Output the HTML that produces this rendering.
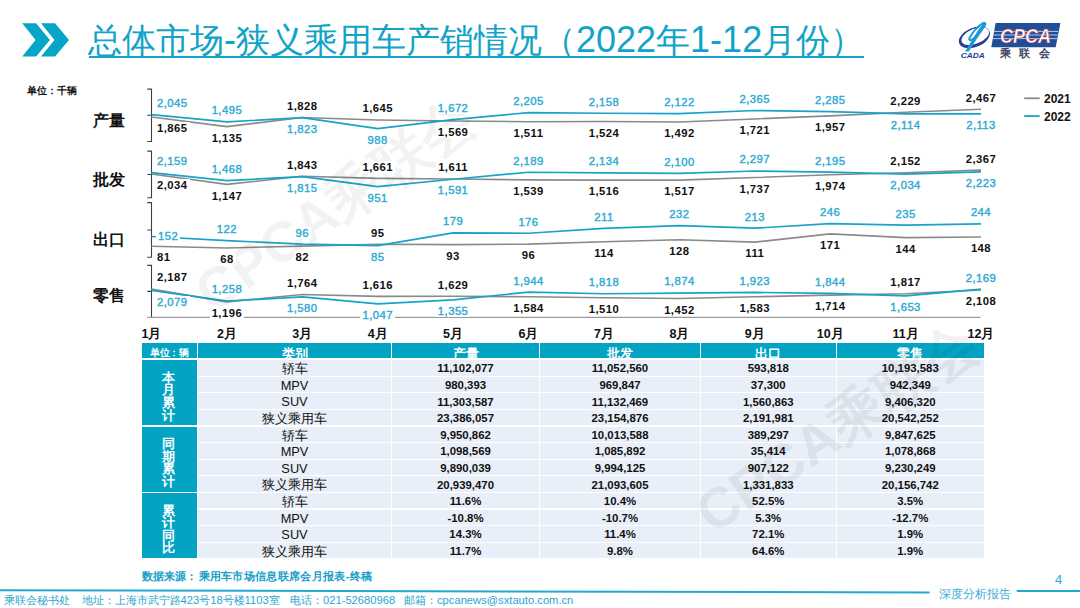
<!DOCTYPE html>
<html><head><meta charset="utf-8">
<style>
html,body{margin:0;padding:0;background:#fff;}
body{width:1080px;height:608px;position:relative;overflow:hidden;font-family:"Liberation Sans",sans-serif;}
.abs{position:absolute;}
.d{font-size:36px;}
.ft{position:absolute;top:593px;font-size:11.2px;line-height:14px;color:#2ba6d0;white-space:pre;}
.wm{position:absolute;font-size:52px;font-weight:bold;color:rgba(0,0,0,0.055);white-space:nowrap;line-height:52px;transform-origin:0 50%;}
.lb{position:absolute;width:60px;height:14px;line-height:14px;text-align:center;font-size:11.3px;letter-spacing:0.45px;}
.lb span{background:#fff;padding:0 2px;}
.k{color:#111;font-weight:bold;}
.b{color:#2eaad3;font-weight:normal;-webkit-text-stroke:0.4px #2eaad3;}
.mo{position:absolute;top:326px;width:40px;height:16px;line-height:16px;text-align:center;font-size:12.5px;font-weight:bold;color:#111;}
.cn{position:absolute;left:92.5px;width:40px;font-size:16px;font-weight:bold;color:#111;line-height:18px;height:18px;}
.th0,.th,.gc,.tc,.td{position:absolute;box-sizing:border-box;}
.th0{background:#03a3c4;color:#fff;font-size:9.5px;font-weight:bold;text-align:center;line-height:14.7px;}
.th0 span{position:absolute;left:8px;top:2.5px;white-space:nowrap;letter-spacing:-0.3px}
.th{background:#03a3c4;color:#fff;font-size:12.5px;font-weight:bold;text-align:center;overflow:hidden;}
.th span{position:absolute;left:0;right:0;top:2.5px;line-height:16px;}
.gc{background:#03a3c4;color:#fff;font-size:12.5px;font-weight:bold;}
.gc span{position:absolute;left:0;right:0;top:50%;transform:translateY(-50%);margin-top:4px;margin-left:-2px;text-align:center;line-height:12.6px;}
.tc{background:#e8eff8;color:#111;font-size:12.8px;text-align:center;line-height:16px;padding-top:1.2px;}
.td{background:#e8eff8;color:#111;font-size:11.4px;font-weight:bold;text-align:center;line-height:16px;padding-top:0.4px;}
</style></head><body>
<svg class="abs" style="left:0;top:0" width="1080" height="70">
<path d="M22.2 23.3H36.1L49.9 39.9L36.1 56.5H22.2L35.6 39.9Z" fill="#04a5c6"/>
<path d="M41 23.3H55L69 39.9L55 56.5H41L54.5 39.9Z" fill="#04a5c6"/>
</svg>
<div class="abs" style="left:88px;top:17.5px;font-size:34px;font-weight:350;line-height:44px;color:#12a3c9;white-space:pre;">总体市场<span class="d">-</span>狭义乘用车产销情况（<span class="d">2022</span>年<span class="d">1-12</span>月份）</div>
<div class="abs" style="left:88.5px;top:55.6px;width:775.5px;height:2px;background:#12a3c9"></div>
<svg class="abs" style="left:0;top:0" width="1080" height="70">
<ellipse cx="974.4" cy="37.4" rx="16.3" ry="9.6" transform="rotate(-22 974.4 37.4)" fill="#2b3c98"/>
<ellipse cx="975.3" cy="36.2" rx="14.6" ry="7.4" transform="rotate(-22 975.3 36.2)" fill="#fff"/>
<path d="M965 51.6L968.8 51.6L977 38.5L986 25.5C987 23.5 986 21.6 984 22L982.5 23Z" fill="#1a9ad8"/>
<path d="M983.6 22.6C978 26 972 33 969.5 38C968.6 40 970 40.8 972 39.6C975 37.6 977.5 35 979.5 32" fill="none" stroke="#1a9ad8" stroke-width="2"/>
<path d="M981.5 25.5C977.5 29.5 974 34 972.5 37" fill="none" stroke="#fff" stroke-width="0.8"/>
<text x="960.8" y="57.6" font-family="Liberation Sans" font-weight="bold" font-style="italic" font-size="6.8" fill="#2b3c98" textLength="24" lengthAdjust="spacingAndGlyphs">CADA</text>
<path d="M995.6 23.1H1060.4L1055.7 47.3H991.3Z" fill="#1f4f98"/>
<path d="M994.2 31.4H1058.4M993.5 35H1057.7M992.8 38.6H1057" stroke="#b8c8e0" stroke-width="1"/>
<text x="1000" y="43.3" font-family="Liberation Sans" font-style="italic" font-weight="bold" font-size="21" fill="#fff" stroke="#d02a3a" stroke-width="0.5" textLength="51" lengthAdjust="spacingAndGlyphs">CPCA</text>
<text x="999.8" y="57.4" font-family="Liberation Sans" font-weight="bold" font-size="10.8" fill="#3a4262" letter-spacing="8.4">乘联会</text>
</svg>
<div class="abs" style="left:26.5px;top:85px;font-size:10px;font-weight:bold;line-height:12px;color:#111;">单位：千辆</div>
<div class="cn" style="top:112px">产量</div>
<div class="cn" style="top:171.3px">批发</div>
<div class="cn" style="top:230.8px">出口</div>
<div class="cn" style="top:287.2px">零售</div>
<svg width="1080" height="608" style="position:absolute;left:0;top:0"><path d="M147.3 89.10H151.5V141.50H147.3M147.3 115.30H151.5" fill="none" stroke="#404040" stroke-width="1.1"/><path d="M151.50 117.07 L226.91 126.63 L302.32 117.55 L377.73 119.95 L453.14 120.95 L528.55 121.71 L603.96 121.54 L679.37 121.95 L754.78 118.95 L830.19 115.86 L905.60 112.30 L981.01 109.18" fill="none" stroke="#8a8a8a" stroke-width="1.6" stroke-linejoin="round"/><path d="M151.50 114.71 L226.91 121.92 L302.32 117.62 L377.73 128.56 L453.14 119.60 L528.55 112.61 L603.96 113.23 L679.37 113.70 L754.78 110.52 L830.19 111.57 L905.60 113.81 L981.01 113.82" fill="none" stroke="#1aa3c9" stroke-width="1.7" stroke-linejoin="round"/><path d="M147.3 151.10H151.5V197.80H147.3M147.3 174.45H151.5" fill="none" stroke="#404040" stroke-width="1.1"/><path d="M151.50 174.05 L226.91 184.41 L302.32 176.28 L377.73 178.41 L453.14 178.99 L528.55 179.83 L603.96 180.10 L679.37 180.09 L754.78 177.52 L830.19 174.75 L905.60 172.68 L981.01 170.17" fill="none" stroke="#8a8a8a" stroke-width="1.6" stroke-linejoin="round"/><path d="M151.50 172.59 L226.91 180.66 L302.32 176.61 L377.73 186.70 L453.14 179.23 L528.55 172.24 L603.96 172.89 L679.37 173.28 L754.78 170.98 L830.19 172.17 L905.60 174.05 L981.01 171.85" fill="none" stroke="#1aa3c9" stroke-width="1.7" stroke-linejoin="round"/><path d="M147.3 202.60H151.5V257.30H147.3M147.3 229.95H151.5" fill="none" stroke="#404040" stroke-width="1.1"/><path d="M151.50 246.22 L226.91 248.00 L302.32 246.09 L377.73 244.31 L453.14 244.58 L528.55 244.17 L603.96 241.71 L679.37 239.80 L754.78 242.12 L830.19 233.92 L905.60 237.61 L981.01 237.06" fill="none" stroke="#8a8a8a" stroke-width="1.6" stroke-linejoin="round"/><path d="M151.50 236.51 L226.91 240.62 L302.32 244.17 L377.73 245.68 L453.14 232.82 L528.55 233.23 L603.96 228.45 L679.37 225.57 L754.78 228.17 L830.19 223.66 L905.60 225.16 L981.01 223.93" fill="none" stroke="#1aa3c9" stroke-width="1.7" stroke-linejoin="round"/><path d="M147.3 265.40H151.5V317.40M147.3 291.40H151.5" fill="none" stroke="#404040" stroke-width="1.1"/><path d="M147.3 317.40H980.5" fill="none" stroke="#9a9a9a" stroke-width="1.4"/><path d="M151.50 288.97 L226.91 301.85 L302.32 294.47 L377.73 296.39 L453.14 296.22 L528.55 296.81 L603.96 297.77 L679.37 298.52 L754.78 296.82 L830.19 295.12 L905.60 293.78 L981.01 290.00" fill="none" stroke="#8a8a8a" stroke-width="1.6" stroke-linejoin="round"/><path d="M151.50 290.37 L226.91 301.05 L302.32 296.86 L377.73 303.79 L453.14 299.78 L528.55 292.13 L603.96 293.77 L679.37 293.04 L754.78 292.40 L830.19 293.43 L905.60 295.91 L981.01 289.20" fill="none" stroke="#1aa3c9" stroke-width="1.7" stroke-linejoin="round"/></svg>
<svg class="abs" style="left:0;top:0" width="1080" height="608">
<g font-family="Liberation Sans" font-weight="bold" font-size="56" fill="rgba(0,0,0,0.05)" text-anchor="middle">
<text transform="translate(335 204) rotate(-35)" y="20">CPCA乘联会</text>
</g></svg>
<div class="lb k" style="left:155px;text-align:left;top:121.2px"><span>1,865</span></div><div class="lb b" style="left:155px;text-align:left;top:96.1px"><span>2,045</span></div><div class="lb k" style="left:196.9px;top:130.8px"><span>1,135</span></div><div class="lb b" style="left:196.9px;top:103.3px"><span>1,495</span></div><div class="lb k" style="left:272.3px;top:98.9px"><span>1,828</span></div><div class="lb b" style="left:272.3px;top:121.8px"><span>1,823</span></div><div class="lb k" style="left:347.7px;top:101.3px"><span>1,645</span></div><div class="lb b" style="left:347.7px;top:132.7px"><span>988</span></div><div class="lb k" style="left:423.1px;top:125.1px"><span>1,569</span></div><div class="lb b" style="left:423.1px;top:100.9px"><span>1,672</span></div><div class="lb k" style="left:498.5px;top:125.9px"><span>1,511</span></div><div class="lb b" style="left:498.5px;top:94.0px"><span>2,205</span></div><div class="lb k" style="left:574.0px;top:125.7px"><span>1,524</span></div><div class="lb b" style="left:574.0px;top:94.6px"><span>2,158</span></div><div class="lb k" style="left:649.4px;top:126.1px"><span>1,492</span></div><div class="lb b" style="left:649.4px;top:95.1px"><span>2,122</span></div><div class="lb k" style="left:724.8px;top:123.1px"><span>1,721</span></div><div class="lb b" style="left:724.8px;top:91.9px"><span>2,365</span></div><div class="lb k" style="left:800.2px;top:120.0px"><span>1,957</span></div><div class="lb b" style="left:800.2px;top:92.9px"><span>2,285</span></div><div class="lb k" style="left:875.6px;top:93.7px"><span>2,229</span></div><div class="lb b" style="left:875.6px;top:118.0px"><span>2,114</span></div><div class="lb k" style="left:951.0px;top:90.5px"><span>2,467</span></div><div class="lb b" style="left:951.0px;top:118.0px"><span>2,113</span></div><div class="lb k" style="left:155px;text-align:left;top:178.2px"><span>2,034</span></div><div class="lb b" style="left:155px;text-align:left;top:153.9px"><span>2,159</span></div><div class="lb k" style="left:196.9px;top:188.6px"><span>1,147</span></div><div class="lb b" style="left:196.9px;top:162.0px"><span>1,468</span></div><div class="lb k" style="left:272.3px;top:157.6px"><span>1,843</span></div><div class="lb b" style="left:272.3px;top:180.8px"><span>1,815</span></div><div class="lb k" style="left:347.7px;top:159.8px"><span>1,661</span></div><div class="lb b" style="left:347.7px;top:190.8px"><span>951</span></div><div class="lb k" style="left:423.1px;top:160.3px"><span>1,611</span></div><div class="lb b" style="left:423.1px;top:183.4px"><span>1,591</span></div><div class="lb k" style="left:498.5px;top:184.0px"><span>1,539</span></div><div class="lb b" style="left:498.5px;top:153.6px"><span>2,189</span></div><div class="lb k" style="left:574.0px;top:184.3px"><span>1,516</span></div><div class="lb b" style="left:574.0px;top:154.2px"><span>2,134</span></div><div class="lb k" style="left:649.4px;top:184.2px"><span>1,517</span></div><div class="lb b" style="left:649.4px;top:154.6px"><span>2,100</span></div><div class="lb k" style="left:724.8px;top:181.7px"><span>1,737</span></div><div class="lb b" style="left:724.8px;top:152.3px"><span>2,297</span></div><div class="lb k" style="left:800.2px;top:178.9px"><span>1,974</span></div><div class="lb b" style="left:800.2px;top:153.5px"><span>2,195</span></div><div class="lb k" style="left:875.6px;top:154.0px"><span>2,152</span></div><div class="lb b" style="left:875.6px;top:178.2px"><span>2,034</span></div><div class="lb k" style="left:951.0px;top:151.5px"><span>2,367</span></div><div class="lb b" style="left:951.0px;top:176.0px"><span>2,223</span></div><div class="lb k" style="left:155px;text-align:left;top:250.4px"><span>81</span></div><div class="lb b" style="left:138.2px;top:228.5px"><span>152</span></div><div class="lb k" style="left:196.9px;top:252.2px"><span>68</span></div><div class="lb b" style="left:196.9px;top:222.0px"><span>122</span></div><div class="lb k" style="left:272.3px;top:250.2px"><span>82</span></div><div class="lb b" style="left:272.3px;top:225.5px"><span>96</span></div><div class="lb k" style="left:347.7px;top:225.7px"><span>95</span></div><div class="lb b" style="left:347.7px;top:249.8px"><span>85</span></div><div class="lb k" style="left:423.1px;top:248.7px"><span>93</span></div><div class="lb b" style="left:423.1px;top:214.2px"><span>179</span></div><div class="lb k" style="left:498.5px;top:248.3px"><span>96</span></div><div class="lb b" style="left:498.5px;top:214.6px"><span>176</span></div><div class="lb k" style="left:574.0px;top:245.9px"><span>114</span></div><div class="lb b" style="left:574.0px;top:209.8px"><span>211</span></div><div class="lb k" style="left:649.4px;top:243.9px"><span>128</span></div><div class="lb b" style="left:649.4px;top:206.9px"><span>232</span></div><div class="lb k" style="left:724.8px;top:246.3px"><span>111</span></div><div class="lb b" style="left:724.8px;top:209.5px"><span>213</span></div><div class="lb k" style="left:800.2px;top:238.1px"><span>171</span></div><div class="lb b" style="left:800.2px;top:205.0px"><span>246</span></div><div class="lb k" style="left:875.6px;top:241.8px"><span>144</span></div><div class="lb b" style="left:875.6px;top:206.5px"><span>235</span></div><div class="lb k" style="left:951.0px;top:241.2px"><span>148</span></div><div class="lb b" style="left:951.0px;top:205.3px"><span>244</span></div><div class="lb k" style="left:155px;text-align:left;top:270.3px"><span>2,187</span></div><div class="lb b" style="left:155px;text-align:left;top:294.5px"><span>2,079</span></div><div class="lb k" style="left:196.9px;top:306.0px"><span>1,196</span></div><div class="lb b" style="left:196.9px;top:282.4px"><span>1,258</span></div><div class="lb k" style="left:272.3px;top:275.8px"><span>1,764</span></div><div class="lb b" style="left:272.3px;top:301.0px"><span>1,580</span></div><div class="lb k" style="left:347.7px;top:277.7px"><span>1,616</span></div><div class="lb b" style="left:347.7px;top:307.9px"><span>1,047</span></div><div class="lb k" style="left:423.1px;top:277.6px"><span>1,629</span></div><div class="lb b" style="left:423.1px;top:303.9px"><span>1,355</span></div><div class="lb k" style="left:498.5px;top:301.0px"><span>1,584</span></div><div class="lb b" style="left:498.5px;top:273.5px"><span>1,944</span></div><div class="lb k" style="left:574.0px;top:301.9px"><span>1,510</span></div><div class="lb b" style="left:574.0px;top:275.1px"><span>1,818</span></div><div class="lb k" style="left:649.4px;top:302.7px"><span>1,452</span></div><div class="lb b" style="left:649.4px;top:274.4px"><span>1,874</span></div><div class="lb k" style="left:724.8px;top:301.0px"><span>1,583</span></div><div class="lb b" style="left:724.8px;top:273.8px"><span>1,923</span></div><div class="lb k" style="left:800.2px;top:299.3px"><span>1,714</span></div><div class="lb b" style="left:800.2px;top:274.8px"><span>1,844</span></div><div class="lb k" style="left:875.6px;top:275.1px"><span>1,817</span></div><div class="lb b" style="left:875.6px;top:300.1px"><span>1,653</span></div><div class="lb k" style="left:951.0px;top:294.1px"><span>2,108</span></div><div class="lb b" style="left:951.0px;top:270.6px"><span>2,169</span></div>
<div class="mo" style="left:131.5px">1月</div><div class="mo" style="left:206.9px">2月</div><div class="mo" style="left:282.3px">3月</div><div class="mo" style="left:357.7px">4月</div><div class="mo" style="left:433.1px">5月</div><div class="mo" style="left:508.5px">6月</div><div class="mo" style="left:584.0px">7月</div><div class="mo" style="left:659.4px">8月</div><div class="mo" style="left:734.8px">9月</div><div class="mo" style="left:810.2px">10月</div><div class="mo" style="left:885.6px">11月</div><div class="mo" style="left:961.0px">12月</div>
<svg class="abs" style="left:0;top:0" width="1080" height="130">
<path d="M1024.2 98.3H1039.7" stroke="#8a8a8a" stroke-width="1.8"/>
<path d="M1024.2 116.1H1039.7" stroke="#1aa3c9" stroke-width="1.8"/>
</svg>
<div class="abs" style="left:1044px;top:91.8px;font-size:12px;font-weight:bold;line-height:14px;color:#111">2021</div>
<div class="abs" style="left:1044px;top:109.8px;font-size:12px;font-weight:bold;line-height:14px;color:#111">2022</div>
<div class="th0" style="left:142px;top:343.3px;width:55.00px;height:14.40px"><span>单位：辆</span></div><div class="th" style="left:198.00px;top:343.3px;width:193.00px;height:14.40px"><span>类别</span></div><div class="th" style="left:392.00px;top:343.3px;width:147.00px;height:14.40px"><span>产量</span></div><div class="th" style="left:540.00px;top:343.3px;width:160.00px;height:14.40px"><span>批发</span></div><div class="th" style="left:701.00px;top:343.3px;width:134.50px;height:14.40px"><span>出口</span></div><div class="th" style="left:836.50px;top:343.3px;width:147.50px;height:14.40px"><span>零售</span></div><div class="gc" style="left:142px;top:360.10px;width:55.00px;height:65.40px"><span>本<br>月<br>累<br>计</span></div><div class="gc" style="left:142px;top:426.50px;width:55.00px;height:65.40px"><span>同<br>期<br>累<br>计</span></div><div class="gc" style="left:142px;top:492.90px;width:55.00px;height:65.40px"><span>累<br>计<br>同<br>比</span></div><div class="tc" style="left:198.00px;top:360.10px;width:193.00px;height:15.60px">轿车</div><div class="td" style="left:392.00px;top:360.10px;width:147.00px;height:15.60px">11,102,077</div><div class="td" style="left:540.00px;top:360.10px;width:160.00px;height:15.60px">11,052,560</div><div class="td" style="left:701.00px;top:360.10px;width:134.50px;height:15.60px">593,818</div><div class="td" style="left:836.50px;top:360.10px;width:147.50px;height:15.60px">10,193,583</div><div class="tc" style="left:198.00px;top:376.70px;width:193.00px;height:15.60px">MPV</div><div class="td" style="left:392.00px;top:376.70px;width:147.00px;height:15.60px">980,393</div><div class="td" style="left:540.00px;top:376.70px;width:160.00px;height:15.60px">969,847</div><div class="td" style="left:701.00px;top:376.70px;width:134.50px;height:15.60px">37,300</div><div class="td" style="left:836.50px;top:376.70px;width:147.50px;height:15.60px">942,349</div><div class="tc" style="left:198.00px;top:393.30px;width:193.00px;height:15.60px">SUV</div><div class="td" style="left:392.00px;top:393.30px;width:147.00px;height:15.60px">11,303,587</div><div class="td" style="left:540.00px;top:393.30px;width:160.00px;height:15.60px">11,132,469</div><div class="td" style="left:701.00px;top:393.30px;width:134.50px;height:15.60px">1,560,863</div><div class="td" style="left:836.50px;top:393.30px;width:147.50px;height:15.60px">9,406,320</div><div class="tc" style="left:198.00px;top:409.90px;width:193.00px;height:15.60px">狭义乘用车</div><div class="td" style="left:392.00px;top:409.90px;width:147.00px;height:15.60px">23,386,057</div><div class="td" style="left:540.00px;top:409.90px;width:160.00px;height:15.60px">23,154,876</div><div class="td" style="left:701.00px;top:409.90px;width:134.50px;height:15.60px">2,191,981</div><div class="td" style="left:836.50px;top:409.90px;width:147.50px;height:15.60px">20,542,252</div><div class="tc" style="left:198.00px;top:426.50px;width:193.00px;height:15.60px">轿车</div><div class="td" style="left:392.00px;top:426.50px;width:147.00px;height:15.60px">9,950,862</div><div class="td" style="left:540.00px;top:426.50px;width:160.00px;height:15.60px">10,013,588</div><div class="td" style="left:701.00px;top:426.50px;width:134.50px;height:15.60px">389,297</div><div class="td" style="left:836.50px;top:426.50px;width:147.50px;height:15.60px">9,847,625</div><div class="tc" style="left:198.00px;top:443.10px;width:193.00px;height:15.60px">MPV</div><div class="td" style="left:392.00px;top:443.10px;width:147.00px;height:15.60px">1,098,569</div><div class="td" style="left:540.00px;top:443.10px;width:160.00px;height:15.60px">1,085,892</div><div class="td" style="left:701.00px;top:443.10px;width:134.50px;height:15.60px">35,414</div><div class="td" style="left:836.50px;top:443.10px;width:147.50px;height:15.60px">1,078,868</div><div class="tc" style="left:198.00px;top:459.70px;width:193.00px;height:15.60px">SUV</div><div class="td" style="left:392.00px;top:459.70px;width:147.00px;height:15.60px">9,890,039</div><div class="td" style="left:540.00px;top:459.70px;width:160.00px;height:15.60px">9,994,125</div><div class="td" style="left:701.00px;top:459.70px;width:134.50px;height:15.60px">907,122</div><div class="td" style="left:836.50px;top:459.70px;width:147.50px;height:15.60px">9,230,249</div><div class="tc" style="left:198.00px;top:476.30px;width:193.00px;height:15.60px">狭义乘用车</div><div class="td" style="left:392.00px;top:476.30px;width:147.00px;height:15.60px">20,939,470</div><div class="td" style="left:540.00px;top:476.30px;width:160.00px;height:15.60px">21,093,605</div><div class="td" style="left:701.00px;top:476.30px;width:134.50px;height:15.60px">1,331,833</div><div class="td" style="left:836.50px;top:476.30px;width:147.50px;height:15.60px">20,156,742</div><div class="tc" style="left:198.00px;top:492.90px;width:193.00px;height:15.60px">轿车</div><div class="td" style="left:392.00px;top:492.90px;width:147.00px;height:15.60px">11.6%</div><div class="td" style="left:540.00px;top:492.90px;width:160.00px;height:15.60px">10.4%</div><div class="td" style="left:701.00px;top:492.90px;width:134.50px;height:15.60px">52.5%</div><div class="td" style="left:836.50px;top:492.90px;width:147.50px;height:15.60px">3.5%</div><div class="tc" style="left:198.00px;top:509.50px;width:193.00px;height:15.60px">MPV</div><div class="td" style="left:392.00px;top:509.50px;width:147.00px;height:15.60px">-10.8%</div><div class="td" style="left:540.00px;top:509.50px;width:160.00px;height:15.60px">-10.7%</div><div class="td" style="left:701.00px;top:509.50px;width:134.50px;height:15.60px">5.3%</div><div class="td" style="left:836.50px;top:509.50px;width:147.50px;height:15.60px">-12.7%</div><div class="tc" style="left:198.00px;top:526.10px;width:193.00px;height:15.60px">SUV</div><div class="td" style="left:392.00px;top:526.10px;width:147.00px;height:15.60px">14.3%</div><div class="td" style="left:540.00px;top:526.10px;width:160.00px;height:15.60px">11.4%</div><div class="td" style="left:701.00px;top:526.10px;width:134.50px;height:15.60px">72.1%</div><div class="td" style="left:836.50px;top:526.10px;width:147.50px;height:15.60px">1.9%</div><div class="tc" style="left:198.00px;top:542.70px;width:193.00px;height:15.60px">狭义乘用车</div><div class="td" style="left:392.00px;top:542.70px;width:147.00px;height:15.60px">11.7%</div><div class="td" style="left:540.00px;top:542.70px;width:160.00px;height:15.60px">9.8%</div><div class="td" style="left:701.00px;top:542.70px;width:134.50px;height:15.60px">64.6%</div><div class="td" style="left:836.50px;top:542.70px;width:147.50px;height:15.60px">1.9%</div>
<div class="abs" style="left:142px;top:568.5px;font-size:11.4px;font-weight:bold;line-height:14px;color:#1a9fc8">数据来源：</div><div class="abs" style="left:198.5px;top:568.5px;font-size:11.4px;font-weight:bold;line-height:14px;color:#1a9fc8;white-space:nowrap;letter-spacing:0.33px">乘用车市场信息联席会月报表-终稿</div>
<svg class="abs" style="left:0;top:580" width="1080" height="28">
</svg>
<svg class="abs" style="left:0;top:0" width="1080" height="608">
<path d="M0 590.2L929.6 592.4" stroke="#22a9cf" stroke-width="2"/>
<path d="M1016.7 591H1080" stroke="#22a9cf" stroke-width="2"/>
</svg>
<div class="ft" style="left:4px">乘联会秘书处</div>
<div class="ft" style="left:81.5px">地址：上海市武宁路423号18号楼1103室</div>
<div class="ft" style="left:290px">电话：021-52680968</div>
<div class="ft" style="left:404px">邮箱：cpcanews@sxtauto.com.cn</div>
<div class="abs" style="left:938.5px;top:586.5px;font-family:'Liberation Serif',serif;font-size:12.4px;font-weight:300;letter-spacing:0.2px;line-height:14px;color:#3aaed6;white-space:pre">深度分析报告</div>
<div class="abs" style="left:1055px;top:573px;font-size:13px;line-height:14px;color:#2ba6d0">4</div>
<svg class="abs" style="left:0;top:0" width="1080" height="608">
<g font-family="Liberation Sans" font-weight="bold" font-size="56" fill="rgba(0,0,0,0.055)" text-anchor="middle">
<text transform="translate(837 427) rotate(-34)" y="20">CPCA乘联会</text>
</g></svg>
</body></html>
